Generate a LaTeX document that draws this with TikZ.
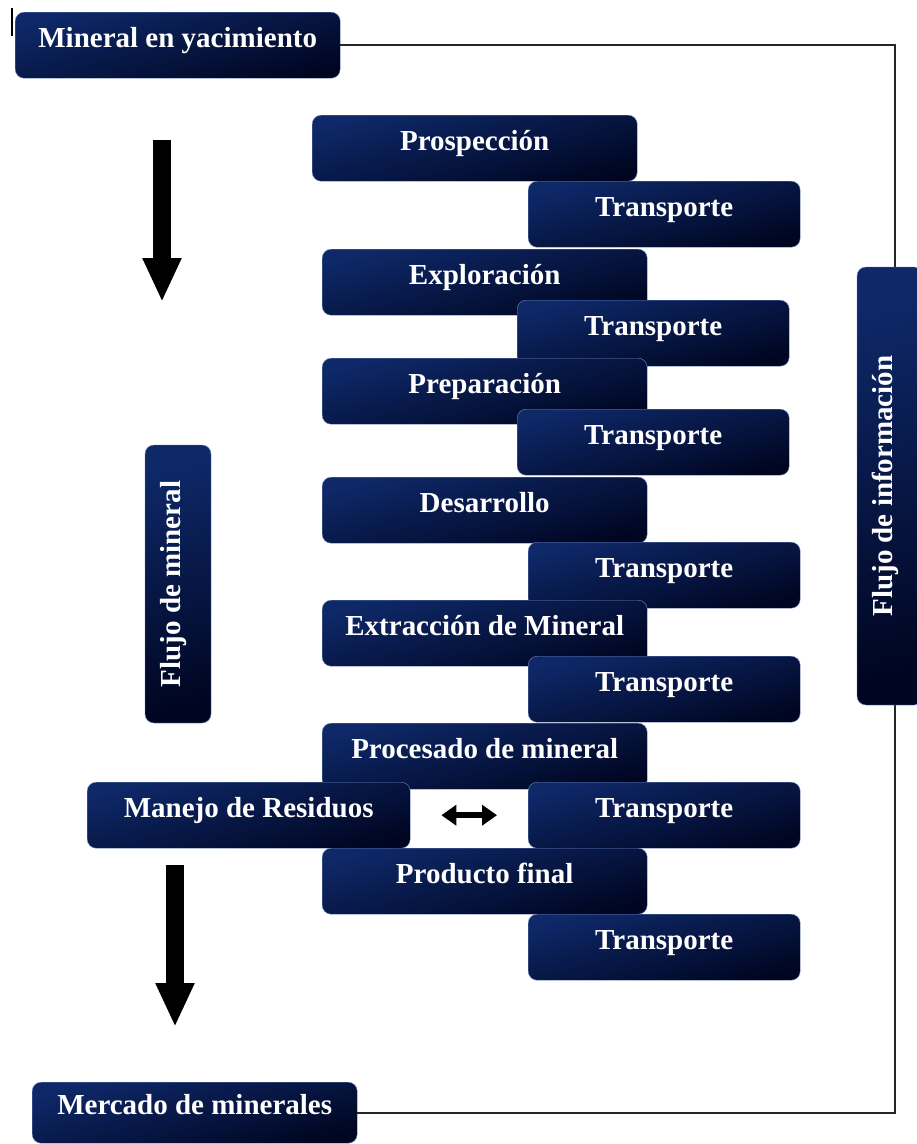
\documentclass[tikz,border=0pt]{standalone}
\usepackage{fontspec}
\setmainfont{Liberation Serif}
\usetikzlibrary{arrows.meta}

\definecolor{navytop}{RGB}{14,40,104}
\definecolor{navymid}{RGB}{6,22,70}
\definecolor{navybot}{RGB}{0,6,34}
\definecolor{navyrim}{RGB}{110,135,190}

\tikzset{
  stage/.style={rectangle, rounded corners=9pt, inner sep=0pt,
    top color=navytop, middle color=navymid, bottom color=navybot, shading angle=15,
    draw=navyrim, line width=0.4pt, text=white,
    font=\fontsize{29}{31}\selectfont\bfseries,
    text height=16pt, text depth=12pt, minimum height=66pt},
  proc/.style={stage, anchor=north west, minimum width=325pt},
  haul/.style={stage, anchor=north west, minimum width=272pt},
  side/.style={stage, rotate=90, minimum height=66pt},
  blockarrow/.style={line width=18pt, -{Triangle[width=36pt,length=44pt]}},
  infoline/.style={line width=1.6pt, draw=black!85},
}

\begin{document}
\begin{tikzpicture}[x=1pt, y=-1pt]
  \clip (0,0) rectangle (917,1144);
  \fill[white] (0,0) rectangle (917,1144);

  % small tick mark at the upper left corner
  \draw[line width=2pt] (12,8) -- (12,36);

  % end points of the process chain
  \node[proc] (mineral) at (15,12) {Mineral en yacimiento};
  \node[proc, minimum height=61pt] (mercado) at (32,1082) {Mercado de minerales};

  % information rail on the right
  \coordinate (rail) at (895,600);
  \draw[infoline] (mineral.east) -| (rail) |- (mercado.east);
  \node[side, minimum width=438pt] (info) at (890,486) {Flujo de información};

  % mineral flow side label and arrows
  \node[side, minimum width=278pt] (flow) at (178,584) {Flujo de mineral};
  \coordinate (a1s) at (162,140);
  \coordinate (a1e) at (162,302);
  \draw[blockarrow] (a1s) -- (a1e);
  \coordinate (a2s) at (175,865);
  \coordinate (a2e) at (175,1027);
  \draw[blockarrow] (a2s) -- (a2e);

  % stages and haulage steps
  \node[proc] (pros) at (312,115) {Prospección};
  \node[haul] (t1) at (528,181) {Transporte};
  \node[proc] (expl) at (322,249) {Exploración};
  \node[haul] (t2) at (517,300) {Transporte};
  \node[proc] (prep) at (322,358) {Preparación};
  \node[haul] (t3) at (517,409) {Transporte};
  \node[proc] (des) at (322,477) {Desarrollo};
  \node[haul] (t4) at (528,542) {Transporte};
  \node[proc] (ext) at (322,600) {Extracción de Mineral};
  \node[haul] (t5) at (528,656) {Transporte};
  \node[proc] (procm) at (322,723) {Procesado de mineral};
  \node[proc, minimum width=323pt] (waste) at (87,782) {Manejo de Residuos};
  \node[haul] (t6) at (528,782) {Transporte};
  \node[proc] (prod) at (322,848) {Producto final};
  \node[haul] (t7) at (528,914) {Transporte};

  % exchange between waste handling and haulage
  \draw[line width=6pt, {Triangle[width=20pt,length=15pt]}-{Triangle[width=20pt,length=15pt]},
        shorten <=31pt, shorten >=31pt] (waste.east) -- (t6.west);
\end{tikzpicture}
\end{document}
